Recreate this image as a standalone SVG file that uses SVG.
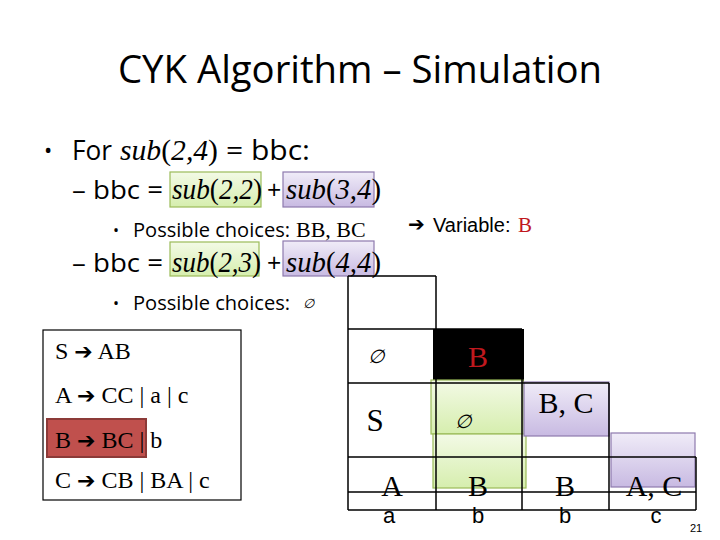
<svg xmlns="http://www.w3.org/2000/svg" width="720" height="540" viewBox="0 0 720 540">
<defs>
<linearGradient id="gGreen" x1="0" y1="0" x2="0" y2="1"><stop offset="0" stop-color="#F3FAE6"/><stop offset="1" stop-color="#D6EEAE"/></linearGradient>
<linearGradient id="gPurple" x1="0" y1="0" x2="0" y2="1"><stop offset="0" stop-color="#F0ECF8"/><stop offset="1" stop-color="#C8BAE2"/></linearGradient>
<style>
.sans{font-family:"Open Sans","Liberation Sans",sans-serif;fill:#000}
.ar{font-family:"Liberation Sans",Arial,sans-serif;fill:#000}
.ser{font-family:"Liberation Serif","DejaVu Serif",serif;fill:#000}
.it{font-style:italic}
.sym{font-family:"DejaVu Sans",sans-serif}
.grn{fill:url(#gGreen);stroke:#9BBB59;stroke-width:1.2}
.pur{fill:url(#gPurple);stroke:#8E7AAE;stroke-width:1.2}
.ln{stroke:#000;stroke-width:1.5;fill:none}
.red{fill:#C0181E}
</style>
</defs>
<rect width="720" height="540" fill="#fff"/>
<g id="title"><text class="sans" x="118" y="83" font-size="39" textLength="484" lengthAdjust="spacingAndGlyphs">CYK Algorithm – Simulation</text></g>
<g id="highlights">
<rect class="grn" x="170" y="172" width="91" height="35"/>
<rect class="pur" x="283" y="172" width="91" height="35"/>
<rect class="grn" x="170" y="242" width="89" height="34"/>
<rect class="pur" x="283" y="241" width="91" height="35"/>
</g>
<g id="bullets">
<text class="sans" x="44" y="158" font-size="22">•</text>
<text class="sans" x="72" y="160" font-size="27" textLength="40" lengthAdjust="spacingAndGlyphs">For</text>
<text class="ser" x="120" y="160" font-size="30" textLength="98" lengthAdjust="spacingAndGlyphs"><tspan class="it">sub</tspan>(<tspan class="it">2,4</tspan>)</text>
<text class="sans" x="226" y="160" font-size="27" textLength="84" lengthAdjust="spacingAndGlyphs">= bbc:</text>

<text class="sans" x="72" y="199" font-size="25" textLength="91" lengthAdjust="spacingAndGlyphs">– bbc =</text>
<text class="ser" x="172" y="199" font-size="30" textLength="90" lengthAdjust="spacingAndGlyphs"><tspan class="it">sub</tspan>(<tspan class="it">2,2</tspan>)</text>
<text class="sans" x="267" y="199" font-size="25">+</text>
<text class="ser" x="286" y="199" font-size="30" textLength="95" lengthAdjust="spacingAndGlyphs"><tspan class="it">sub</tspan>(<tspan class="it">3,4</tspan>)</text>

<text class="sans" x="113" y="236" font-size="16">•</text>
<text class="sans" x="133" y="237" font-size="20" textLength="157" lengthAdjust="spacingAndGlyphs">Possible choices:</text>
<text class="ser" x="296" y="237" font-size="22">BB, BC</text>

<text class="sym" x="408" y="231" font-size="20">➔</text>
<text class="ar" x="433" y="232" font-size="20">Variable:</text>
<text class="ser red" x="518" y="232" font-size="21">B</text>

<text class="sans" x="72" y="272" font-size="25" textLength="91" lengthAdjust="spacingAndGlyphs">– bbc =</text>
<text class="ser" x="172" y="272" font-size="30" textLength="89" lengthAdjust="spacingAndGlyphs"><tspan class="it">sub</tspan>(<tspan class="it">2,3</tspan>)</text>
<text class="sans" x="267" y="272" font-size="25">+</text>
<text class="ser" x="286" y="272" font-size="30" textLength="95" lengthAdjust="spacingAndGlyphs"><tspan class="it">sub</tspan>(<tspan class="it">4,4</tspan>)</text>

<text class="sans" x="113" y="309" font-size="16">•</text>
<text class="sans" x="133" y="310" font-size="20" textLength="157" lengthAdjust="spacingAndGlyphs">Possible choices:</text>
<text class="ser it" x="303" y="308" font-size="13">∅</text>
</g>
<g id="grammar">
<rect x="43" y="330" width="198" height="170" fill="#fff" stroke="#000" stroke-width="1.2"/>
<rect x="47" y="419" width="99" height="38" fill="#C0504D" stroke="#8C3A38" stroke-width="2"/>
<text class="ser" x="55" y="359" font-size="24">S <tspan class="sym" font-size="22">➔</tspan> AB</text>
<text class="ser" x="55" y="403" font-size="24">A <tspan class="sym" font-size="22">➔</tspan> CC | a | c</text>
<text class="ser" x="55" y="448" font-size="24">B <tspan class="sym" font-size="22">➔</tspan> BC | b</text>
<text class="ser" x="55" y="488" font-size="24">C <tspan class="sym" font-size="22">➔</tspan> CB | BA | c</text>
</g>
<g id="table-cells">
<rect x="433" y="329" width="91" height="54" fill="#000"/>
<rect class="grn" x="431" y="380" width="92" height="54"/>
<rect class="grn" x="433" y="434" width="93" height="54"/>
<rect class="pur" x="524" y="382" width="85" height="54"/>
<rect class="pur" x="611" y="433" width="84" height="54"/>
</g>
<g id="connectors">
<path class="ln" d="M348 276V510M436 276V510M522 329V510M609 383V510M696 457V510M348 276H436M348 329H522M348 383H609M348 457H696M348 492H696M348 510H696"/>
</g>
<g id="table-text" class="ser" font-size="30" text-anchor="middle">
<text class="it" x="376" y="363" font-size="19">∅</text>
<text class="red" x="478" y="367" font-size="30">B</text>
<text x="375" y="431" font-size="31">S</text>
<text class="it" x="463" y="428" font-size="19">∅</text>
<text x="566" y="413">B, C</text>
<text x="392" y="496">A</text>
<text x="478" y="496">B</text>
<text x="565" y="496">B</text>
<text x="654" y="496">A, C</text>
</g>
<g id="letters" class="ar" font-size="22" text-anchor="middle">
<text x="389" y="523">a</text>
<text x="478" y="523">b</text>
<text x="565" y="523">b</text>
<text x="656" y="523">c</text>
</g>
<text class="ar" x="696" y="532" font-size="11" text-anchor="middle">21</text>
</svg>
